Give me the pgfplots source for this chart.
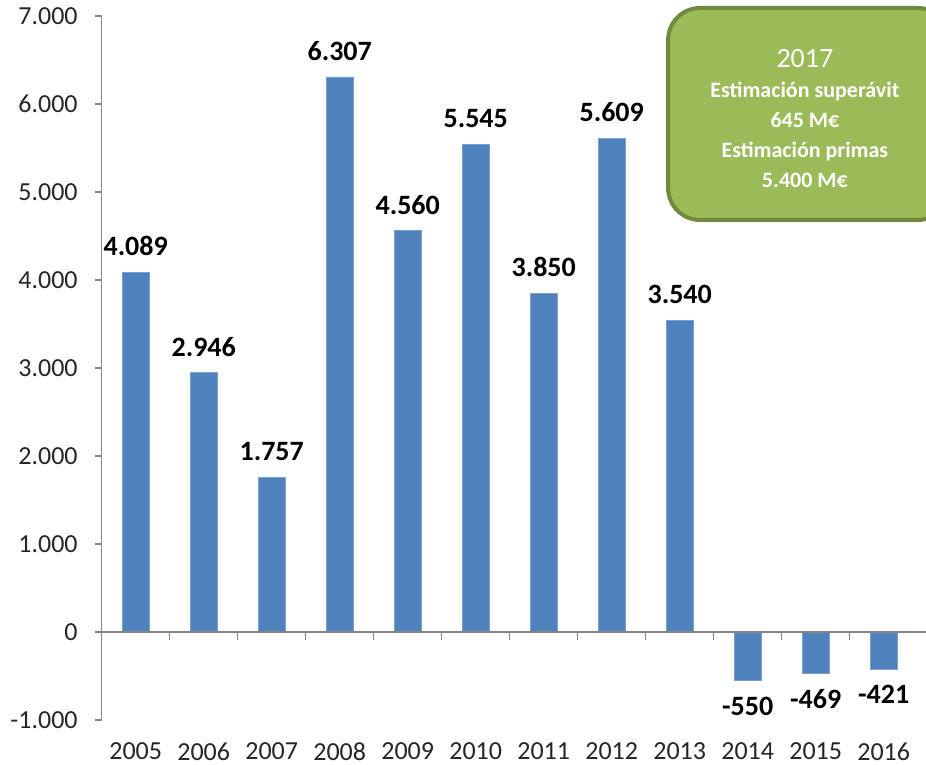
\documentclass[border=0pt]{standalone}
\usepackage{pgfplots}
\pgfplotsset{compat=1.18}
\usepackage{fontspec}
\setmainfont{Carlito}
\usetikzlibrary{calc}

\definecolor{barblue}{HTML}{4F81BD}
\definecolor{boxfill}{HTML}{9BBB59}
\definecolor{boxline}{HTML}{6F8A3A}
\definecolor{axgray}{HTML}{868686}

\pgfplotsset{/pgf/number format/1000 sep={.}, /pgf/number format/assume math mode=true}

\begin{document}
\begin{tikzpicture}
\begin{axis}[
  scale only axis, width=408pt, height=352pt,
  bar width=13.5pt,
  xmin=-0.5, xmax=11.5, ymin=-1000, ymax=7000,
  clip=false,
  axis y line*=left, axis x line*=bottom,
  x axis line style={draw=none},
  y axis line style={axgray, line width=0.6pt, -},
  xtick=data,
  xticklabels={2005,2006,2007,2008,2009,2010,2011,2012,2013,2014,2015,2016},
  xtick style={draw=none},
  ytick={-1000,0,1000,2000,3000,4000,5000,6000,7000},
  ytick style={axgray, line width=0.6pt},
  tick align=outside, major tick length=3.5pt,
  ticklabel style={font=\fontsize{13}{13}\selectfont, text=black!85},
  xticklabel style={yshift=-4.5pt},
  yticklabel style={xshift=-5pt},
  nodes near coords,
  every node near coord/.append style={font=\fontsize{14}{14}\selectfont\bfseries, text=black, inner ysep=8pt},
]
\addplot[ybar, fill=barblue, draw=barblue!75!white, line width=0.4pt] coordinates {
  (0,4089) (1,2946) (2,1757) (3,6307) (4,4560) (5,5545)
  (6,3850) (7,5609) (8,3540) (9,-550) (10,-469) (11,-421)
};
\draw[axgray, line width=0.6pt] (axis cs:-0.5,0) -- (axis cs:12.2,0);
\pgfplotsinvokeforeach{0,...,10}{
  \draw[axgray, line width=0.6pt] (axis cs:#1.5,0) -- (axis cs:#1.5,-91);
}
\coordinate (bl) at (rel axis cs:0,0);
\end{axis}
\draw[boxline, line width=2pt, fill=boxfill, rounded corners=16pt]
  ($(bl)+(283.2pt,356pt)$) rectangle ($(bl)+(424pt,250pt)$);
\node[text=white, align=center, font=\fontsize{11}{15}\selectfont\bfseries]
  at ($(bl)+(351.6pt,301pt)$)
  {{\fontsize{14}{15}\selectfont\mdseries 2017}\\ Estimación superávit\\ 645 M€\\ Estimación primas\\ 5.400 M€};
\pgfresetboundingbox
\path[use as bounding box] ($(bl)+(-50.85pt,-22.5pt)$) rectangle ($(bl)+(412.15pt,360pt)$);
\end{tikzpicture}
\end{document}
